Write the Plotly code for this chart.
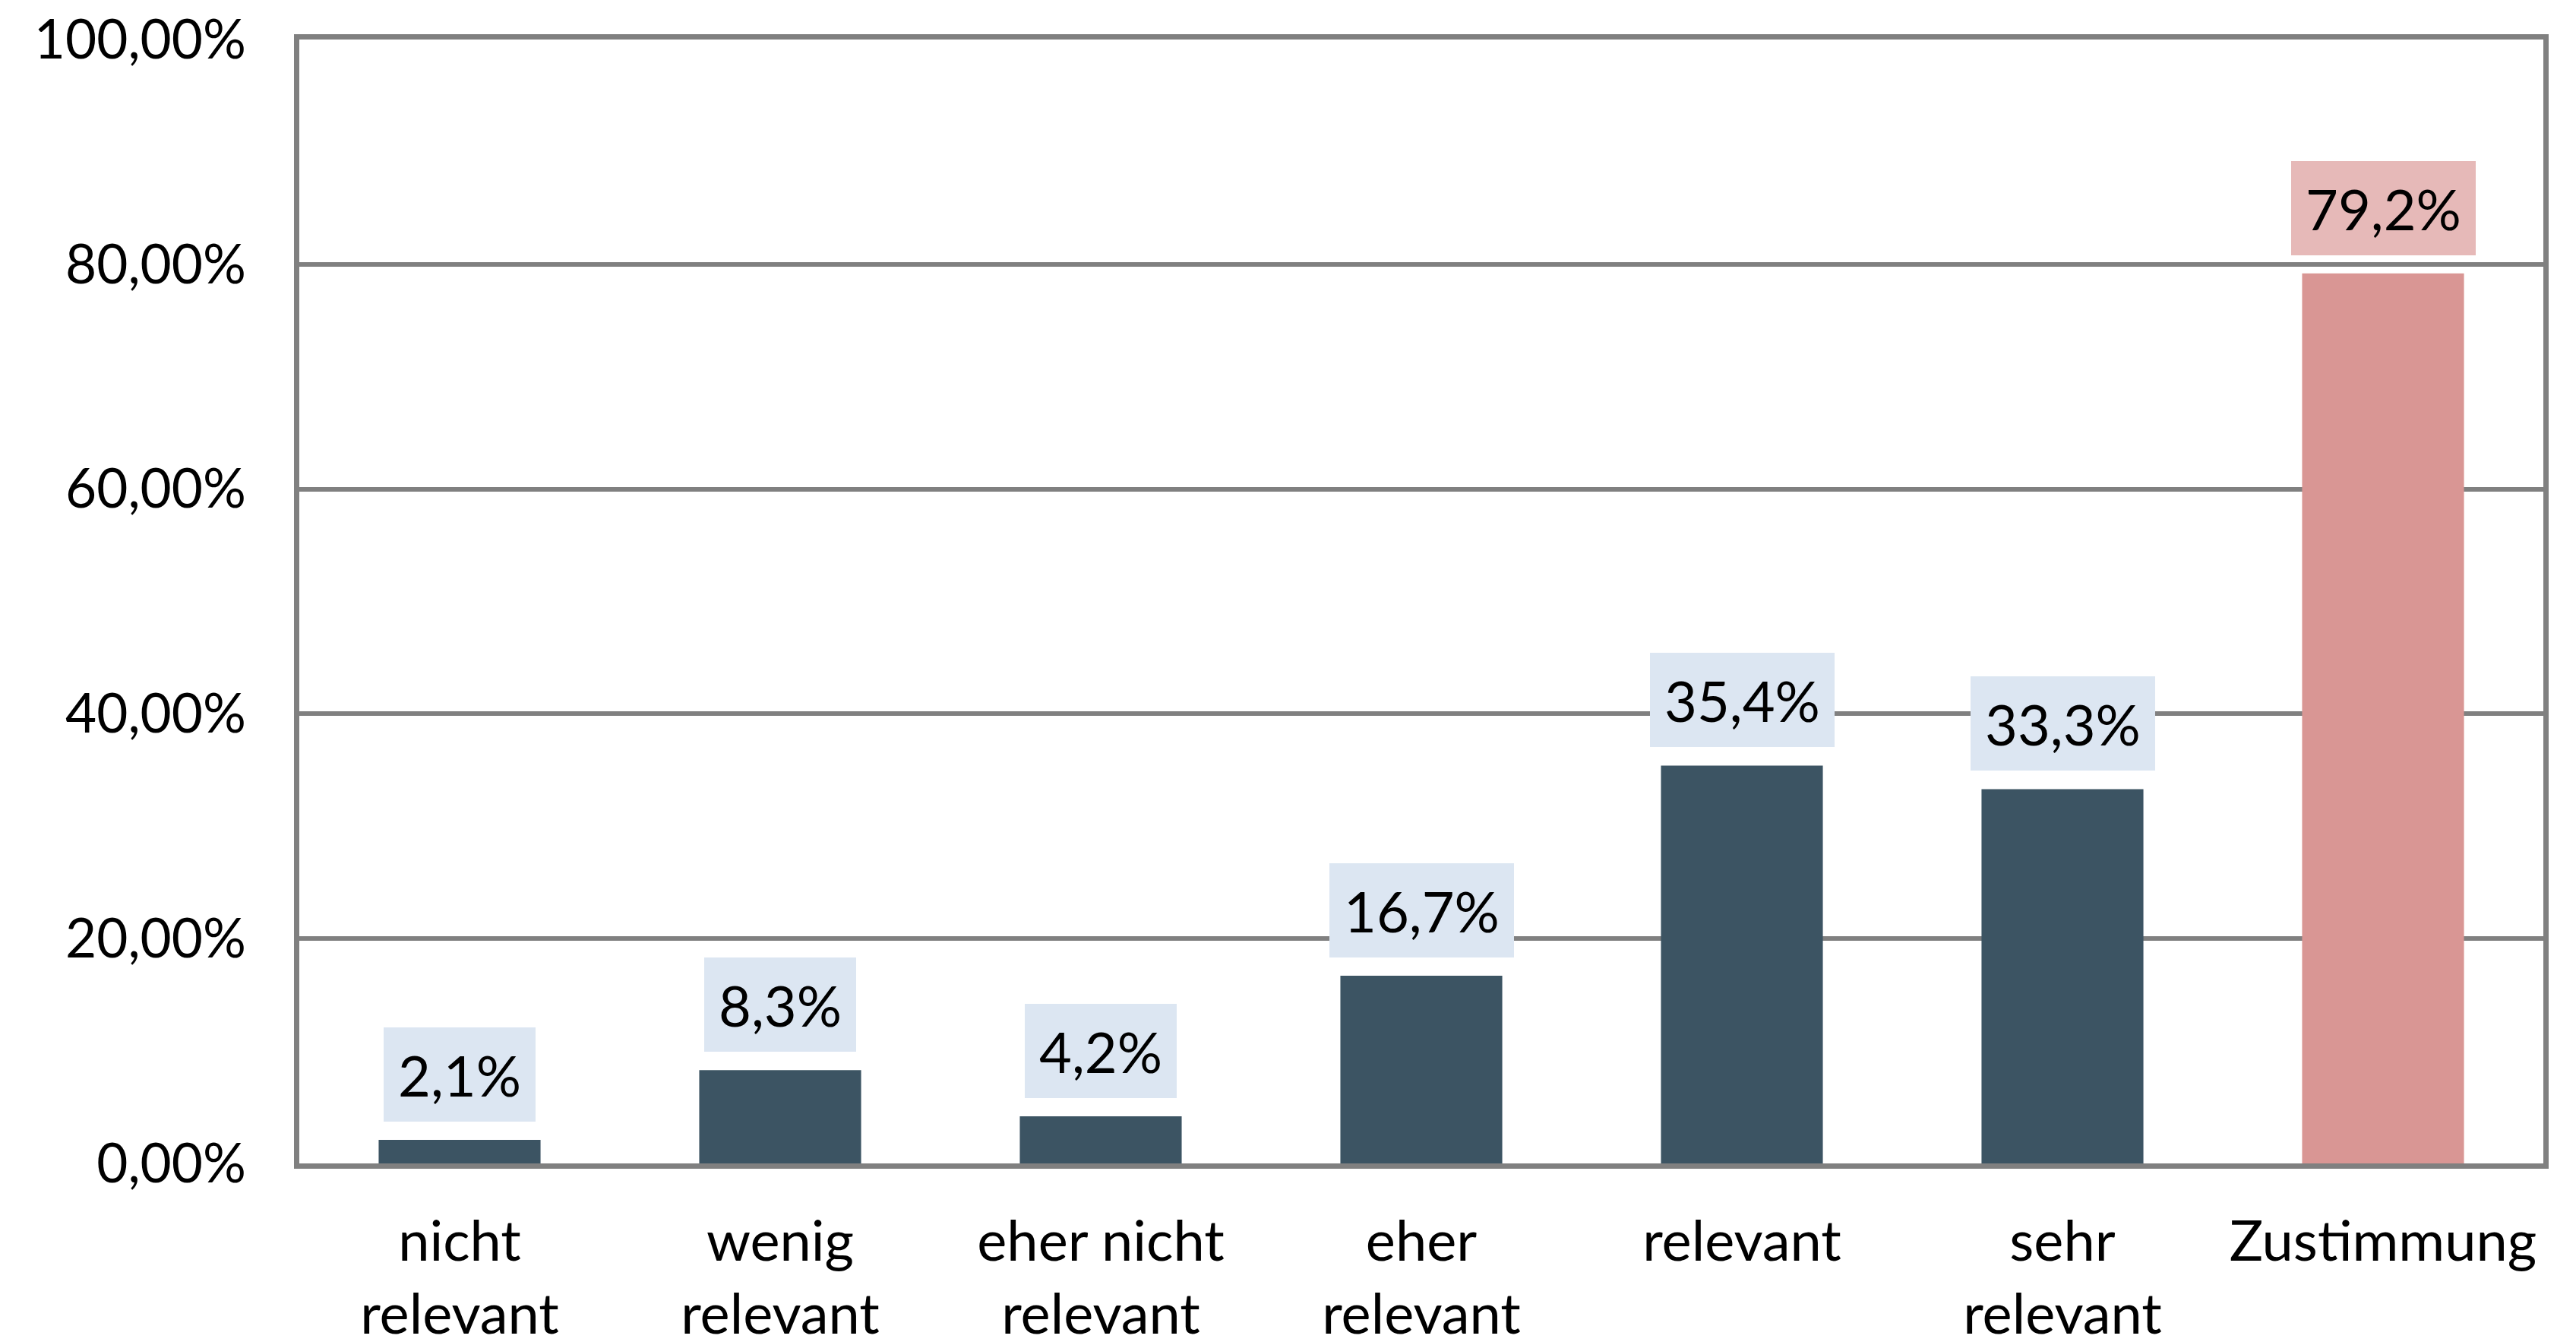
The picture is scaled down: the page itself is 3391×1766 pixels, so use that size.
import plotly.graph_objects as go

# Relevanz-Bewertung (Anteile in %)
categories = [
    "nicht<br>relevant",
    "wenig<br>relevant",
    "eher nicht<br>relevant",
    "eher<br>relevant",
    "relevant",
    "sehr<br>relevant",
    "Zustimmung",
]
shares = [2.1, 8.3, 4.2, 16.7, 35.4, 33.3, 79.2]
y_ticks = [0, 20, 40, 60, 80, 100]
y_tick_text = [f"{v:.2f}%".replace(".", ",") for v in y_ticks]

BAR_DARK = "#3C5463"
BAR_PINK = "#D99694"
BOX_BLUE = "#DCE6F2"
BOX_PINK = "#E6B9B8"
GRID = "#808080"
FONT = "Lato, Carlito, Calibri, sans-serif"
FS = 74

is_total = [c == "Zustimmung" for c in categories]
bar_colors = [BAR_PINK if t else BAR_DARK for t in is_total]

fig = go.Figure(go.Bar(
    x=categories,
    y=shares,
    marker=dict(color=bar_colors, line=dict(width=0)),
    width=0.505,
    hoverinfo="skip",
))

# data labels with filled boxes above each bar
for cat, val, total in zip(categories, shares, is_total):
    fig.add_annotation(
        x=cat,
        y=val,
        text=f"{val:.1f}%".replace(".", ","),
        showarrow=False,
        yanchor="bottom",
        yshift=24,
        height=86,
        borderpad=19,
        borderwidth=0,
        bgcolor=BOX_PINK if total else BOX_BLUE,
        font=dict(family=FONT, size=FS, color="#000000"),
    )

# page body adds an 8px offset, margins compensate for it
fig.update_layout(
    width=3391,
    height=1766,
    margin=dict(l=386, r=51, t=44, b=243),
    paper_bgcolor="white",
    plot_bgcolor="white",
    font=dict(family=FONT, size=FS, color="#000000"),
    showlegend=False,
    bargap=0.5,
    xaxis=dict(
        automargin=False,
        showline=True,
        linecolor=GRID,
        linewidth=7,
        mirror=True,
        showgrid=False,
        ticks="",
        ticklabelstandoff=32,
        tickfont=dict(family=FONT, size=FS),
    ),
    yaxis=dict(
        automargin=False,
        range=[0, 100],
        tickvals=y_ticks,
        ticktext=y_tick_text,
        ticklabeloverflow="allow",
        showline=True,
        linecolor=GRID,
        linewidth=7,
        mirror=True,
        showgrid=True,
        gridcolor=GRID,
        gridwidth=6,
        zeroline=False,
        ticks="",
        ticklabelstandoff=49,
        tickfont=dict(family=FONT, size=71),
    ),
)

fig.write_html("out.html")
